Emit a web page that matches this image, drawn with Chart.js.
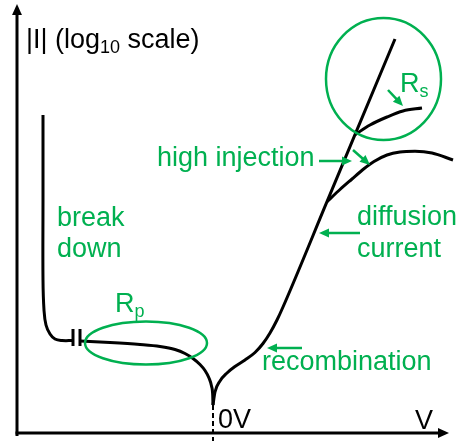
<!DOCTYPE html>
<html>
<head>
<meta charset="utf-8">
<script src="https://cdn.jsdelivr.net/npm/chart.js@4.4.1/dist/chart.umd.min.js"></script>
<style>
  html, body { margin: 0; padding: 0; background: #fff; }
  #wrap { width: 458px; height: 441px; }
</style>
</head>
<body>
<div id="wrap"><canvas id="chart"></canvas></div>
<script>
// diode I-V sketch, voltage on x (0V in the middle), log|I| on y, arbitrary units
const breakdownV    = [-17.0, -17.0, -17.0, -16.9, -16.7, -16.3, -15.8, -15.1, -14.0];
const breakdownLogI = [31.8, 23.3, 15.3, 12.3, 10.8, 9.9, 9.4, 9.25, 9.25];

const reverseV    = [-13.3, -10.3, -7.3, -5.3, -3.8, -2.8, -2.0, -1.3, -0.8, -0.4, -0.15, -0.03, 0.0];
const reverseLogI = [9.2, 9.05, 8.85, 8.65, 8.35, 7.95, 7.45, 6.85, 6.25, 5.5, 4.7, 3.8, 2.8];

const forwardV    = [0.0, 0.2, 0.7, 1.4, 2.2, 3.2, 4.2, 5.0, 5.7, 6.4, 7.0, 11.4, 14.2, 18.2];
const forwardLogI = [2.8, 4.1, 5.2, 6.0, 6.65, 7.3, 8.05, 8.95, 10.0, 11.3, 12.6, 23.13, 29.83, 39.4];

const highInjV    = [11.4, 12.7, 13.9, 15.0, 16.1, 17.4, 18.7, 20.2, 21.9, 24.0];
const highInjLogI = [23.13, 24.35, 25.4, 26.35, 27.15, 27.8, 28.1, 28.17, 28.0, 27.3];

const seriesResV    = [14.2, 15.7, 17.4, 19.0, 20.9];
const seriesResLogI = [29.83, 30.8, 31.6, 32.2, 32.5];

const vMin = -19.6, vMax = 24.5;
const logMin = 0, logMax = 43.3;

const green = "#00b050";
const font = '"Liberation Sans", Arial, sans-serif';

function pts(xs, ys) {
  return xs.map((x, i) => ({ x: x, y: ys[i] }));
}

function curve(xs, ys, smooth) {
  const ds = {
    data: pts(xs, ys),
    showLine: true,
    borderColor: "#000",
    borderWidth: 3,
    pointRadius: 0,
    tension: 0.4,
    fill: false,
    clip: false
  };
  // branches that run left to right can use monotone splines
  if (smooth) ds.cubicInterpolationMode = "monotone";
  return ds;
}

function arrow(ctx, x1, y1, x2, y2, color, width, head) {
  const a = Math.atan2(y2 - y1, x2 - x1);
  ctx.save();
  ctx.strokeStyle = color;
  ctx.fillStyle = color;
  ctx.lineWidth = width;
  ctx.beginPath();
  ctx.moveTo(x1, y1);
  ctx.lineTo(x2 - Math.cos(a) * head * 0.8, y2 - Math.sin(a) * head * 0.8);
  ctx.stroke();
  ctx.beginPath();
  ctx.moveTo(x2, y2);
  ctx.lineTo(x2 - head * Math.cos(a) + head * 0.45 * Math.sin(a), y2 - head * Math.sin(a) - head * 0.45 * Math.cos(a));
  ctx.lineTo(x2 - head * Math.cos(a) - head * 0.45 * Math.sin(a), y2 - head * Math.sin(a) + head * 0.45 * Math.cos(a));
  ctx.closePath();
  ctx.fill();
  ctx.restore();
}

// text with an optional subscript part
function label(ctx, x, y, main, sub, rest, color) {
  ctx.fillStyle = color;
  ctx.font = "27px " + font;
  ctx.fillText(main, x, y);
  let cx = x + ctx.measureText(main).width;
  if (sub) {
    ctx.font = "18px " + font;
    ctx.fillText(sub, cx, y + 5);
    cx += ctx.measureText(sub).width;
  }
  if (rest) {
    ctx.font = "27px " + font;
    ctx.fillText(rest, cx, y);
  }
}

const sketchPlugin = {
  id: "sketch",
  afterDatasetsDraw(chart) {
    const ctx = chart.ctx;
    const xs = chart.scales.x, ys = chart.scales.y;
    const px = v => xs.getPixelForValue(v);
    const py = v => ys.getPixelForValue(v);

    ctx.save();
    ctx.textBaseline = "alphabetic";

    // axes with arrow heads
    arrow(ctx, px(vMin), py(-0.3), px(vMin), py(42.9), "#000", 3, 11);
    arrow(ctx, px(vMin) - 1.5, py(0), px(23.6), py(0), "#000", 3, 11);

    // dashed 0V marker below the cusp
    ctx.strokeStyle = "#000";
    ctx.lineWidth = 2;
    ctx.setLineDash([5, 3]);
    ctx.beginPath();
    ctx.moveTo(px(0), py(2.8));
    ctx.lineTo(px(0), py(-0.8));
    ctx.stroke();
    ctx.setLineDash([]);

    // break mark on the reverse branch
    ctx.lineWidth = 3;
    [-14.0, -13.3].forEach(v => {
      ctx.beginPath();
      ctx.moveTo(px(v), py(10.4));
      ctx.lineTo(px(v), py(8.7));
      ctx.stroke();
    });

    // Rp ellipse and Rs circle
    ctx.strokeStyle = green;
    ctx.lineWidth = 2.5;
    ctx.beginPath();
    ctx.ellipse(px(-6.7), py(9.0), 61, 21.5, 0, 0, Math.PI * 2);
    ctx.stroke();
    ctx.beginPath();
    ctx.ellipse(px(17.05), py(35.4), 57.5, 61, 0, 0, Math.PI * 2);
    ctx.stroke();

    // pointer arrows
    arrow(ctx, px(10.6), py(27.2), px(13.9), py(27.2), green, 2.5, 10);
    arrow(ctx, px(14.0), py(28.3), px(15.7), py(26.8), green, 2.5, 10);
    arrow(ctx, px(17.5), py(34.3), px(19.0), py(32.7), green, 2.5, 10);
    arrow(ctx, px(14.7), py(20.0), px(10.6), py(20.0), green, 2.5, 10);
    arrow(ctx, px(8.9), py(8.5), px(5.4), py(8.5), green, 2.5, 10);

    // text
    label(ctx, px(-18.7), py(38.5), "|I| (log", "10", " scale)", "#000");
    label(ctx, px(-15.6), py(20.7), "break", null, null, green);
    label(ctx, px(-15.6), py(17.6), "down", null, null, green);
    label(ctx, px(-9.8), py(12.1), "R", "p", null, green);
    label(ctx, px(-5.6), py(26.7), "high injection", null, null, green);
    label(ctx, px(18.7), py(34.1), "R", "s", null, green);
    label(ctx, px(14.4), py(20.8), "diffusion", null, null, green);
    label(ctx, px(14.4), py(17.6), "current", null, null, green);
    label(ctx, px(4.9), py(6.3), "recombination", null, null, green);
    label(ctx, px(0.5), py(0.5), "0V", null, null, "#000");
    label(ctx, px(20.2), py(0.4), "V", null, null, "#000");

    ctx.restore();
  }
};

new Chart(document.getElementById("chart"), {
  type: "scatter",
  data: {
    datasets: [
      curve(breakdownV, breakdownLogI, false),
      curve(reverseV, reverseLogI, true),
      curve(forwardV, forwardLogI, true),
      curve(highInjV, highInjLogI, true),
      curve(seriesResV, seriesResLogI, true)
    ]
  },
  options: {
    responsive: true,
    maintainAspectRatio: false,
    animation: false,
    layout: { padding: { left: 17, right: 0, top: 0, bottom: 8 } },
    plugins: {
      legend: { display: false },
      tooltip: { enabled: false }
    },
    scales: {
      x: { type: "linear", min: vMin, max: vMax, display: false },
      y: { type: "linear", min: logMin, max: logMax, display: false }
    }
  },
  plugins: [sketchPlugin]
});
</script>
</body>
</html>
